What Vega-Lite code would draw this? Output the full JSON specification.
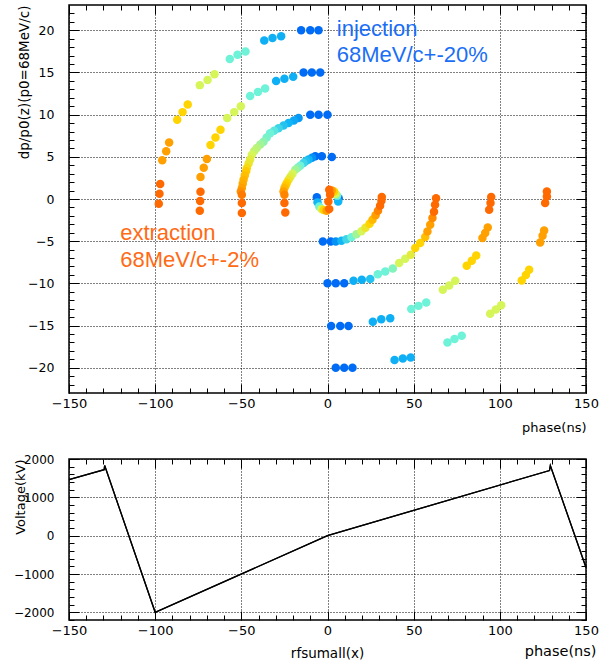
{
  "$schema": "https://vega.github.io/schema/vega-lite/v6.json",
  "background": "white",
  "padding": {"left": 12, "top": 3, "right": 0, "bottom": 0},
  "spacing": 66,
  "bounds": "flush",
  "config": {
    "view": {"stroke": "#000", "strokeWidth": 1.5},
    "axis": {
      "labelFont": "DejaVu Sans", "labelFontSize": 12.5, "labelColor": "#000",
      "titleFont": "DejaVu Sans", "titleFontWeight": "normal", "titleColor": "#000",
      "domain": false, "tickColor": "#000", "tickWidth": 1,
      "gridColor": "#000", "gridDash": [1, 2], "gridWidth": 1,
      "labelOverlap": false, "labelFlush": false
    },
    "title": {"font": "DejaVu Sans", "fontWeight": "normal", "color": "#000"}
  },
  "vconcat": [
    {
      "width": 517,
      "height": 388,
      "layer": [
        {
          "data": {"values": [
            {"phase": -15.3, "dp": 20, "t": 0}, {"phase": -10, "dp": 20, "t": 0}, {"phase": -5.2, "dp": 20, "t": 0},
            {"phase": -36.7, "dp": 18.8, "t": 0.9}, {"phase": -31.9, "dp": 19.1, "t": 0.9}, {"phase": -26.9, "dp": 19.3, "t": 0.9},
            {"phase": -56.7, "dp": 16.6, "t": 2}, {"phase": -52.2, "dp": 17.1, "t": 2}, {"phase": -47.6, "dp": 17.5, "t": 2},
            {"phase": -74.1, "dp": 13.5, "t": 3}, {"phase": -69.6, "dp": 14.1, "t": 3}, {"phase": -65.6, "dp": 14.8, "t": 3},
            {"phase": -87.2, "dp": 9.4, "t": 4}, {"phase": -84.1, "dp": 10.3, "t": 4}, {"phase": -81.1, "dp": 11.2, "t": 4},
            {"phase": -95.9, "dp": 4.6, "t": 5}, {"phase": -93.6, "dp": 5.65, "t": 5}, {"phase": -91.9, "dp": 6.7, "t": 5},
            {"phase": -97.9, "dp": -0.56, "t": 6}, {"phase": -97.5, "dp": 0.63, "t": 6}, {"phase": -97.1, "dp": 1.78, "t": 6},

            {"phase": -13.9, "dp": 15, "t": 0}, {"phase": -9.1, "dp": 15, "t": 0}, {"phase": -4.2, "dp": 15, "t": 0},
            {"phase": -29.8, "dp": 14.0, "t": 0.9}, {"phase": -25.0, "dp": 14.25, "t": 0.9}, {"phase": -19.9, "dp": 14.5, "t": 0.9},
            {"phase": -44.9, "dp": 12.2, "t": 2}, {"phase": -40.4, "dp": 12.7, "t": 2}, {"phase": -36.2, "dp": 13.1, "t": 2},
            {"phase": -58.2, "dp": 9.6, "t": 3}, {"phase": -54.1, "dp": 10.3, "t": 3}, {"phase": -50.3, "dp": 11.0, "t": 3},
            {"phase": -67.9, "dp": 6.4, "t": 4}, {"phase": -65.0, "dp": 7.3, "t": 4}, {"phase": -62.1, "dp": 8.2, "t": 4},
            {"phase": -73.7, "dp": 2.6, "t": 5}, {"phase": -71.8, "dp": 3.7, "t": 5}, {"phase": -70.0, "dp": 4.75, "t": 5},
            {"phase": -74.1, "dp": -1.4, "t": 6}, {"phase": -73.9, "dp": -0.24, "t": 6}, {"phase": -73.7, "dp": 0.87, "t": 6},

            {"phase": -10, "dp": 10, "t": 0}, {"phase": -5.2, "dp": 10, "t": 0}, {"phase": 0, "dp": 10, "t": 0},
            {"phase": -16.8, "dp": 9.6, "t": 0.6}, {"phase": -19.5, "dp": 9.3, "t": 0.8}, {"phase": -22.6, "dp": 9.0, "t": 1},
            {"phase": -25.5, "dp": 8.7, "t": 1.2}, {"phase": -28.4, "dp": 8.4, "t": 1.5}, {"phase": -31.0, "dp": 8.1, "t": 1.8},
            {"phase": -33.3, "dp": 7.8, "t": 2}, {"phase": -35.3, "dp": 7.3, "t": 2.1}, {"phase": -37.1, "dp": 6.8, "t": 2.3},
            {"phase": -39.0, "dp": 6.45, "t": 2.5}, {"phase": -41.0, "dp": 6.06, "t": 2.7}, {"phase": -42.5, "dp": 5.7, "t": 2.8},
            {"phase": -43.9, "dp": 5.26, "t": 3}, {"phase": -44.9, "dp": 4.67, "t": 3.3}, {"phase": -45.8, "dp": 4.2, "t": 3.5},
            {"phase": -46.8, "dp": 3.68, "t": 3.8}, {"phase": -47.2, "dp": 3.28, "t": 4.2}, {"phase": -48.0, "dp": 2.8, "t": 4.4},
            {"phase": -48.7, "dp": 2.29, "t": 4.6}, {"phase": -49.2, "dp": 1.8, "t": 4.8}, {"phase": -49.7, "dp": 1.3, "t": 5},
            {"phase": -50.3, "dp": 0.9, "t": 5.3}, {"phase": -49.7, "dp": 0.5, "t": 5.7}, {"phase": -49.7, "dp": -0.48, "t": 6},
            {"phase": -49.7, "dp": -1.66, "t": 6},

            {"phase": -7.1, "dp": 5.06, "t": 0}, {"phase": -3.3, "dp": 5.06, "t": 0}, {"phase": 2.5, "dp": 4.99, "t": 0},
            {"phase": -9.0, "dp": 4.9, "t": 0.5}, {"phase": -11.0, "dp": 4.67, "t": 1}, {"phase": -12.5, "dp": 4.5, "t": 1.2},
            {"phase": -13.9, "dp": 4.28, "t": 1.5}, {"phase": -15.8, "dp": 3.95, "t": 2}, {"phase": -17.3, "dp": 3.7, "t": 2.2},
            {"phase": -18.7, "dp": 3.48, "t": 2.5}, {"phase": -20.3, "dp": 3.0, "t": 3}, {"phase": -21.5, "dp": 2.65, "t": 3.2},
            {"phase": -22.6, "dp": 2.29, "t": 3.5}, {"phase": -23.6, "dp": 1.9, "t": 4}, {"phase": -24.3, "dp": 1.6, "t": 4.2},
            {"phase": -25.0, "dp": 1.3, "t": 4.5}, {"phase": -25.5, "dp": 0.9, "t": 5}, {"phase": -25.0, "dp": 0.5, "t": 5.5},
            {"phase": -25.0, "dp": -0.48, "t": 6}, {"phase": -24.5, "dp": -1.6, "t": 6},

            {"phase": -6.2, "dp": 0.2, "t": 0}, {"phase": -5.8, "dp": -0.4, "t": 1}, {"phase": -4.8, "dp": -0.9, "t": 2},
            {"phase": -3.5, "dp": -1.2, "t": 3}, {"phase": -2.2, "dp": -1.3, "t": 4}, {"phase": -0.5, "dp": -1.4, "t": 5},
            {"phase": 6.5, "dp": 0.1, "t": 0}, {"phase": 6.2, "dp": -0.3, "t": 1}, {"phase": 5.6, "dp": 0.4, "t": 2},
            {"phase": 4.8, "dp": 0.6, "t": 3}, {"phase": 3.8, "dp": 0.9, "t": 4}, {"phase": 2.5, "dp": 1.0, "t": 5},
            {"phase": 1.0, "dp": -1.2, "t": 6}, {"phase": 0.5, "dp": -0.3, "t": 6}, {"phase": 1.5, "dp": 0.5, "t": 6},
            {"phase": 1.0, "dp": 1.1, "t": 6},

            {"phase": -2.7, "dp": -5.04, "t": 0}, {"phase": 1.9, "dp": -5.04, "t": 0}, {"phase": 4.8, "dp": -5.04, "t": 0.5},
            {"phase": 8.1, "dp": -4.95, "t": 1}, {"phase": 11.0, "dp": -4.77, "t": 1.5}, {"phase": 13.9, "dp": -4.54, "t": 2},
            {"phase": 16.8, "dp": -4.18, "t": 2.5}, {"phase": 19.7, "dp": -3.82, "t": 3}, {"phase": 22.0, "dp": -3.41, "t": 3.5},
            {"phase": 24.4, "dp": -2.93, "t": 4}, {"phase": 26.1, "dp": -2.45, "t": 4.5}, {"phase": 27.9, "dp": -1.92, "t": 5},
            {"phase": 29.3, "dp": -1.39, "t": 5.5}, {"phase": 30.5, "dp": -0.8, "t": 6}, {"phase": 31.3, "dp": -0.2, "t": 6},
            {"phase": 31.5, "dp": 0.24, "t": 6},

            {"phase": 0, "dp": -10, "t": 0}, {"phase": 4.8, "dp": -10, "t": 0}, {"phase": 9.7, "dp": -10, "t": 0},
            {"phase": 15.1, "dp": -9.7, "t": 0.9}, {"phase": 19.9, "dp": -9.58, "t": 0.9}, {"phase": 24.8, "dp": -9.47, "t": 1.2},
            {"phase": 29.2, "dp": -8.91, "t": 2}, {"phase": 33.5, "dp": -8.6, "t": 2}, {"phase": 37.9, "dp": -8.25, "t": 2.2},
            {"phase": 41.6, "dp": -7.6, "t": 3}, {"phase": 45.1, "dp": -7.09, "t": 3}, {"phase": 48.3, "dp": -6.62, "t": 3.3},
            {"phase": 50.9, "dp": -5.82, "t": 4}, {"phase": 53.8, "dp": -5.23, "t": 4}, {"phase": 56.7, "dp": -4.51, "t": 4.4},
            {"phase": 58.0, "dp": -3.85, "t": 5}, {"phase": 59.6, "dp": -3.05, "t": 5}, {"phase": 60.9, "dp": -2.26, "t": 5.4},
            {"phase": 61.8, "dp": -1.51, "t": 6}, {"phase": 62.4, "dp": -0.68, "t": 6}, {"phase": 63.0, "dp": 0.1, "t": 6},

            {"phase": 2.1, "dp": -15.05, "t": 0}, {"phase": 7.4, "dp": -15.05, "t": 0}, {"phase": 12.2, "dp": -15.05, "t": 0},
            {"phase": 26.3, "dp": -14.54, "t": 0.9}, {"phase": 31.2, "dp": -14.25, "t": 0.9}, {"phase": 36.4, "dp": -14.13, "t": 0.9},
            {"phase": 48.6, "dp": -13.03, "t": 2}, {"phase": 52.8, "dp": -12.67, "t": 2}, {"phase": 57.3, "dp": -12.28, "t": 2},
            {"phase": 66.9, "dp": -10.77, "t": 3}, {"phase": 70.6, "dp": -10.26, "t": 3}, {"phase": 74.1, "dp": -9.7, "t": 3},
            {"phase": 80.8, "dp": -7.92, "t": 4}, {"phase": 83.7, "dp": -7.33, "t": 4}, {"phase": 86.3, "dp": -6.7, "t": 4},
            {"phase": 89.9, "dp": -4.63, "t": 5}, {"phase": 91.5, "dp": -4.04, "t": 5}, {"phase": 93.0, "dp": -3.37, "t": 5},
            {"phase": 93.8, "dp": -1.27, "t": 6}, {"phase": 94.6, "dp": -0.48, "t": 6}, {"phase": 95.0, "dp": 0.24, "t": 6},

            {"phase": 4.8, "dp": -20, "t": 0}, {"phase": 9.7, "dp": -20, "t": 0}, {"phase": 14.5, "dp": -20, "t": 0},
            {"phase": 38.9, "dp": -19.1, "t": 0.9}, {"phase": 43.7, "dp": -18.9, "t": 0.9}, {"phase": 48.3, "dp": -18.8, "t": 0.9},
            {"phase": 69.6, "dp": -17.0, "t": 2}, {"phase": 73.7, "dp": -16.6, "t": 2}, {"phase": 77.9, "dp": -16.2, "t": 2},
            {"phase": 94.4, "dp": -13.6, "t": 3}, {"phase": 97.7, "dp": -13.1, "t": 3}, {"phase": 100.8, "dp": -12.6, "t": 3},
            {"phase": 112.7, "dp": -9.67, "t": 4}, {"phase": 115.1, "dp": -9.0, "t": 4}, {"phase": 117.0, "dp": -8.4, "t": 4},
            {"phase": 123.4, "dp": -5.15, "t": 5}, {"phase": 124.8, "dp": -4.36, "t": 5}, {"phase": 125.7, "dp": -3.73, "t": 5},
            {"phase": 126.3, "dp": -0.48, "t": 6}, {"phase": 127.3, "dp": 0.31, "t": 6}, {"phase": 127.3, "dp": 0.9, "t": 6}
          ]},
          "mark": {"type": "circle", "size": 72, "opacity": 1},
          "encoding": {
            "x": {
              "field": "phase", "type": "quantitative",
              "scale": {"domain": [-150, 150], "nice": false, "zero": false},
              "axis": {
                "orient": "bottom",
                "values": [-150,-140,-130,-120,-110,-100,-90,-80,-70,-60,-50,-40,-30,-20,-10,0,10,20,30,40,50,60,70,80,90,100,110,120,130,140,150],
                "format": "d",
                "labelExpr": "datum.value % 50 === 0 ? datum.label : ''",
                "labelFontSize": 13,
                "tickSize": {"condition": {"test": "datum.value % 50 === 0", "value": -9}, "value": -5},
                "labelPadding": 13,
                "grid": true,
                "gridOpacity": {"condition": {"test": "datum.value % 50 === 0", "value": 1}, "value": 0},
                "title": "phase(ns)",
                "titleFontSize": 13,
                "titleAnchor": "end",
                "titleAlign": "right",
                "titleBaseline": "middle",
                "titleX": 517,
                "titleY": 34
              }
            },
            "y": {
              "field": "dp", "type": "quantitative",
              "scale": {"domain": [-23, 23], "nice": false, "zero": false},
              "axis": {
                "orient": "left",
                "values": [-22,-21,-20,-19,-18,-17,-16,-15,-14,-13,-12,-11,-10,-9,-8,-7,-6,-5,-4,-3,-2,-1,0,1,2,3,4,5,6,7,8,9,10,11,12,13,14,15,16,17,18,19,20,21,22],
                "format": "d",
                "labelExpr": "datum.value % 5 === 0 ? datum.label : ''",
                "labelFontSize": 12.5,
                "tickSize": {"condition": {"test": "datum.value % 5 === 0", "value": -10}, "value": -5},
                "labelPadding": 25,
                "grid": true,
                "gridOpacity": {"condition": {"test": "datum.value % 5 === 0", "value": 1}, "value": 0},
                "title": "dp/p0(z)(p0=68MeV/c)",
                "titleFontSize": 13.5,
                "titleAnchor": "end",
                "titleAlign": "right",
                "titleBaseline": "middle",
                "titleX": -45,
                "titleY": 0
              }
            },
            "color": {
              "field": "t", "type": "quantitative",
              "scale": {"domain": [0, 1, 2, 3, 4, 5, 6], "range": ["#006cf5", "#10b6f5", "#6ef2d8", "#d6f558", "#ffd400", "#ffa000", "#ff6a00"], "interpolate": "rgb"},
              "legend": null
            }
          }
        },
        {
          "data": {"values": [
            {"phase": 5.4, "dp": 20.1, "label": "injection", "kind": "inj"},
            {"phase": 5.4, "dp": 17.1, "label": "68MeV/c+-20%", "kind": "inj"},
            {"phase": -120.3, "dp": -4.04, "label": "extraction", "kind": "ext"},
            {"phase": -120.3, "dp": -7.2, "label": "68MeV/c+-2%", "kind": "ext"}
          ]},
          "mark": {"type": "text", "align": "left", "baseline": "middle", "font": "Liberation Sans", "fontSize": 22},
          "encoding": {
            "x": {
              "field": "phase", "type": "quantitative",
              "axis": {
                "orient": "top",
                "values": [-150,-140,-130,-120,-110,-100,-90,-80,-70,-60,-50,-40,-30,-20,-10,0,10,20,30,40,50,60,70,80,90,100,110,120,130,140,150],
                "labels": false,
                "tickSize": {"condition": {"test": "datum.value % 50 === 0", "value": -9}, "value": -5},
                "grid": false,
                "title": null
              }
            },
            "y": {
              "field": "dp", "type": "quantitative",
              "axis": {
                "orient": "right",
                "values": [-22,-21,-20,-19,-18,-17,-16,-15,-14,-13,-12,-11,-10,-9,-8,-7,-6,-5,-4,-3,-2,-1,0,1,2,3,4,5,6,7,8,9,10,11,12,13,14,15,16,17,18,19,20,21,22],
                "labels": false,
                "tickSize": {"condition": {"test": "datum.value % 5 === 0", "value": -10}, "value": -5},
                "grid": false,
                "title": null
              }
            },
            "text": {"field": "label", "type": "nominal"},
            "color": {
              "field": "kind", "type": "nominal",
              "scale": {"domain": ["inj", "ext"], "range": ["#1a6ef5", "#ff6a14"]},
              "legend": null
            }
          }
        }
      ],
      "resolve": {"axis": {"x": "independent", "y": "independent"}, "scale": {"color": "independent"}}
    },
    {
      "width": 517,
      "height": 161,
      "title": {"text": "rfsumall(x)", "orient": "bottom", "anchor": "middle", "frame": "group", "fontSize": 13.5, "offset": -11},
      "data": {"values": [
        {"phase": -150, "kv": 1460},
        {"phase": -129.6, "kv": 1720},
        {"phase": -129.3, "kv": 1830},
        {"phase": -100, "kv": -2000},
        {"phase": 0, "kv": 0},
        {"phase": 128.8, "kv": 1700},
        {"phase": 129.3, "kv": 1830},
        {"phase": 150, "kv": -830}
      ]},
      "layer": [
        {
          "mark": {"type": "line", "color": "#000", "strokeWidth": 1.3},
          "encoding": {
            "x": {
              "field": "phase", "type": "quantitative",
              "scale": {"domain": [-150, 150], "nice": false, "zero": false},
              "axis": {
                "orient": "bottom",
                "values": [-150,-140,-130,-120,-110,-100,-90,-80,-70,-60,-50,-40,-30,-20,-10,0,10,20,30,40,50,60,70,80,90,100,110,120,130,140,150],
                "format": "d",
                "labelExpr": "datum.value % 50 === 0 ? datum.label : ''",
                "labelFontSize": 13,
                "tickSize": {"condition": {"test": "datum.value % 50 === 0", "value": -9}, "value": -5},
                "labelPadding": 13,
                "grid": true,
                "gridOpacity": {"condition": {"test": "datum.value % 50 === 0", "value": 1}, "value": 0},
                "title": "phase(ns)",
                "titleFontSize": 14.5,
                "titleAnchor": "end",
                "titleAlign": "right",
                "titleBaseline": "middle",
                "titleX": 527,
                "titleY": 31
              }
            },
            "y": {
              "field": "kv", "type": "quantitative",
              "scale": {"domain": [-2200, 2000], "nice": false, "zero": false},
              "axis": {
                "orient": "left",
                "values": [-2200,-2000,-1800,-1600,-1400,-1200,-1000,-800,-600,-400,-200,0,200,400,600,800,1000,1200,1400,1600,1800,2000],
                "format": "d",
                "labelExpr": "datum.value % 1000 === 0 ? datum.label : ''",
                "labelFontSize": 12,
                "tickSize": {"condition": {"test": "datum.value % 1000 === 0", "value": -10}, "value": -5},
                "labelPadding": 25,
                "grid": true,
                "gridOpacity": {"condition": {"test": "datum.value % 1000 === 0", "value": 1}, "value": 0},
                "title": "Voltage(kV)",
                "titleFontSize": 13,
                "titleAnchor": "end",
                "titleAlign": "right",
                "titleBaseline": "middle",
                "titleX": -49,
                "titleY": 0
              }
            }
          }
        },
        {
          "mark": {"type": "line", "color": "#000", "strokeWidth": 1.3},
          "encoding": {
            "x": {
              "field": "phase", "type": "quantitative",
              "axis": {
                "orient": "top",
                "values": [-150,-140,-130,-120,-110,-100,-90,-80,-70,-60,-50,-40,-30,-20,-10,0,10,20,30,40,50,60,70,80,90,100,110,120,130,140,150],
                "labels": false,
                "tickSize": {"condition": {"test": "datum.value % 50 === 0", "value": -9}, "value": -5},
                "grid": false,
                "title": null
              }
            },
            "y": {
              "field": "kv", "type": "quantitative",
              "axis": {
                "orient": "right",
                "values": [-2200,-2000,-1800,-1600,-1400,-1200,-1000,-800,-600,-400,-200,0,200,400,600,800,1000,1200,1400,1600,1800,2000],
                "labels": false,
                "tickSize": {"condition": {"test": "datum.value % 1000 === 0", "value": -10}, "value": -5},
                "grid": false,
                "title": null
              }
            }
          }
        }
      ],
      "resolve": {"axis": {"x": "independent", "y": "independent"}}
    }
  ]
}
